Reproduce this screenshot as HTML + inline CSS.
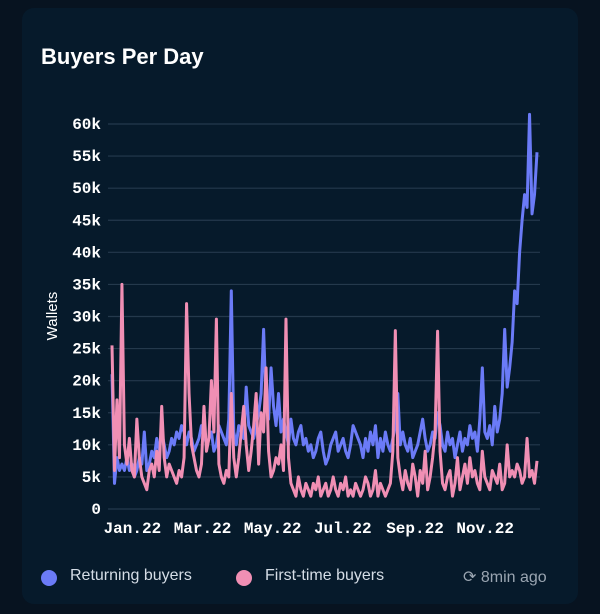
<!DOCTYPE html>
<html><head><meta charset="utf-8"><style>
body{margin:0;width:600px;height:614px;background:#071320;overflow:hidden;font-family:"Liberation Sans",sans-serif}
#card{position:absolute;left:22px;top:8px;width:556px;height:596px;background:#061a2b;border-radius:12px}
#title{position:absolute;left:41px;top:44px;color:#fff;font-size:22px;font-weight:bold}
.leg{position:absolute;top:567px;color:#d5dde6;font-size:16px}
.dot{position:absolute;top:570px;width:16px;height:16px;border-radius:50%}
</style></head><body>
<div id="card"></div>
<div id="title">Buyers Per Day</div>
<svg id="chart" width="600" height="614" style="position:absolute;left:0;top:0"></svg>
<div class="dot" style="left:41px;background:#6b7bf7"></div>
<div class="leg" style="left:70px">Returning buyers</div>
<div class="dot" style="left:236px;background:#f08fb4"></div>
<div class="leg" style="left:265px">First-time buyers</div>
<div class="leg" style="left:463px;color:#9aa5b1">⟳ 8min ago</div>
<script>
const yTicks=[0,5,10,15,20,25,30,35,40,45,50,55,60];
const xLabels=["Jan.22","Mar.22","May.22","Jul.22","Sep.22","Nov.22"];
const xLabelPos=[0.055,0.22,0.385,0.55,0.72,0.885];
const returning=[21,4,8,6,7,6,8,6,7,5,6,8,7,12,6,7,9,8,11,9,12,10,8,9,11,10,12,11,13,12,10,12,11,9,10,11,13,12,10,11,12,9,10,13,12,11,10,14,34,12,10,13,12,11,19,13,12,11,13,15,18,28,16,14,22,16,13,18,12,14,12,10,14,11,10,12,13,10,11,9,10,8,9,11,12,9,7,8,10,11,12,9,10,11,9,8,10,13,12,11,10,8,11,9,12,10,13,8,11,9,12,10,9,11,13,18,10,12,10,9,11,8,9,10,12,14,11,9,10,12,11,15,13,10,9,12,10,11,8,10,12,9,11,10,13,11,12,9,14,22,12,11,13,10,16,12,14,18,28,19,22,26,34,32,40,45,49,47,61.5,46,49,55.6];
const firstTime=[25.5,6,17,8,35,10,7,11,6,5,14,8,5,4,3,6,7,5,9,6,16,8,5,7,6,5,4,6,5,8,32,18,10,8,6,5,7,16,9,11,20,12,29.6,7,5,4,6,5,18,8,5,8,12,16,10,6,9,13,18,7,15,12,22,9,5,6,8,7,10,6,29.6,8,4,3,2,5,3,2,4,3,2,4,3,5,2,3,4,2,3,5,3,2,4,3,5,2,3,2,4,3,2,3,5,4,2,3,6,2,4,3,2,3,4,9,27.8,8,5,3,6,4,3,7,5,2,6,4,9,3,5,8,12,27.7,9,4,3,5,6,2,4,8,3,5,7,4,8,5,6,4,3,9,5,4,3,6,5,4,7,3,4,10,5,6,5,7,6,4,5,11,5,6,4,7.5];
const svg=document.getElementById('chart');const NS='http://www.w3.org/2000/svg';
const X0=112,X1=537,Y0=509,Y60=124;
const y=v=>Y0-(v/60)*(Y0-Y60);
const xi=(i,n)=>X0+i*(X1-X0)/(n-1);
function mk(t,a){const e=document.createElementNS(NS,t);for(const k in a)e.setAttribute(k,a[k]);svg.appendChild(e);return e;}
yTicks.forEach(v=>{
 const l=mk('line',{x1:108,x2:540,y1:y(v),y2:y(v),stroke:'#24394c','stroke-width':1.2});
 
 
 const t=mk('text',{x:101,y:y(v)+5,'text-anchor':'end',fill:'#fff','font-size':16,'font-weight':'bold','font-family':'Liberation Mono, monospace'});
 t.textContent=v===0?'0':v+'k';
 
 
});
xLabels.forEach((s,i)=>{
 const t=mk('text',{x:X0+xLabelPos[i]*(X1-X0)-3,y:533,'text-anchor':'middle',fill:'#fff','font-size':16,'font-weight':'bold','font-family':'Liberation Mono, monospace'});
 t.textContent=s;
 
 
});
const yt=mk('text',{x:57,y:316,'text-anchor':'middle',fill:'#fff','font-size':15,transform:'rotate(-90 57 316)'});
yt.textContent='Wallets';


function series(d,c,name){
 const p=mk('polyline',{points:d.map((v,i)=>xi(i,d.length)+','+y(v)).join(' '),fill:'none',stroke:c,'stroke-width':3,'stroke-linejoin':'round'});
 
 
}
series(returning,'#6b7bf7','returning-buyers-line');
series(firstTime,'#f08fb4','first-time-buyers-line');
</script>
</body></html>
